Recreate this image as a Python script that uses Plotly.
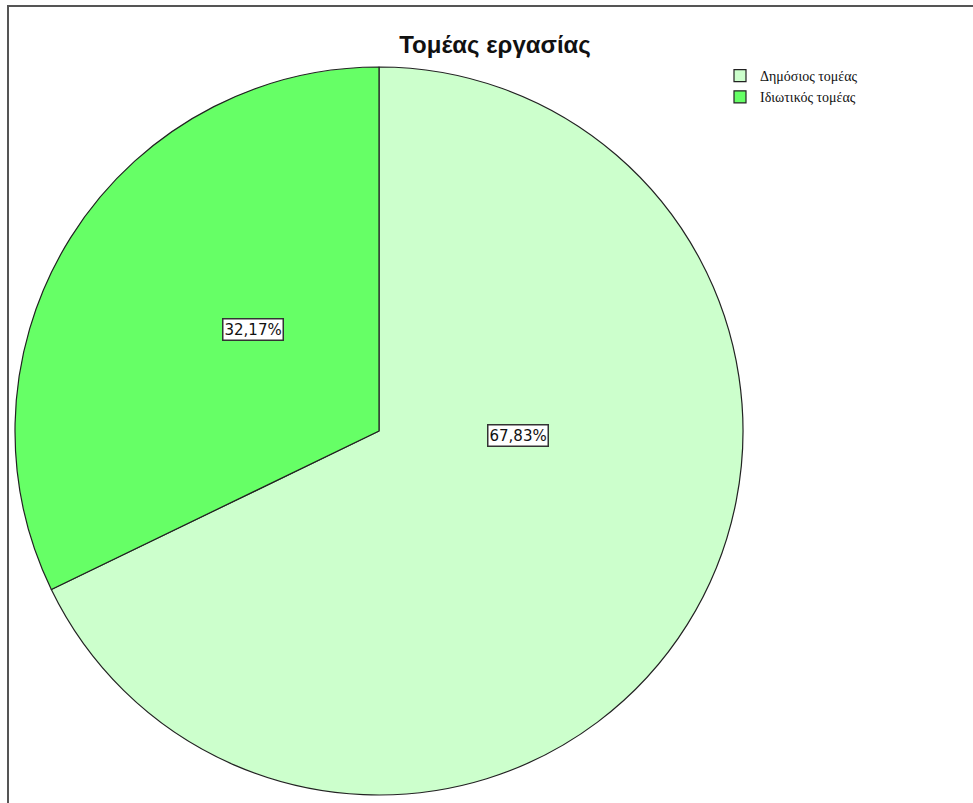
import plotly.graph_objects as go

# Employment sector shares (percent)
sectors = ["Δημόσιος τομέας", "Ιδιωτικός τομέας"]
shares = [67.83, 32.17]
slice_colors = ["#ccffcc", "#66ff66"]

# label anchor points for the value boxes (paper fraction)
label_x = [518 / 973, 222 / 973]
label_y = [1 - 436 / 803, 1 - 329 / 803]

W, H = 973, 803
cx, cy, r = 379, 431, 364

fig = go.Figure(
    go.Pie(
        labels=sectors,
        values=shares,
        sort=False,
        direction="clockwise",
        rotation=0,
        marker=dict(colors=slice_colors, line=dict(color="#222222", width=1.2)),
        textinfo="none",
        hoverinfo="label+percent",
        domain=dict(
            x=[(cx - r) / W, (cx + r) / W],
            y=[1 - (cy + r) / H, 1 - (cy - r) / H],
        ),
    )
)

for v, x, y in zip(shares, label_x, label_y):
    fig.add_annotation(
        x=x, y=y, xref="paper", yref="paper",
        text=f"{v:.2f}%".replace(".", ","),
        showarrow=False,
        font=dict(family="DejaVu Sans", size=15, color="#111111"),
        bgcolor="white",
        bordercolor="#333333",
        borderwidth=1.5,
        borderpad=1,
    )

# outer frame along the top and left edges
fig.add_shape(
    type="rect", xref="paper", yref="paper",
    x0=8 / W, x1=1.05, y0=-0.05, y1=1 - 6 / H,
    line=dict(color="#555555", width=2),
    fillcolor="rgba(0,0,0,0)",
)

fig.update_layout(
    width=W,
    height=H,
    margin=dict(l=0, r=0, t=0, b=0),
    paper_bgcolor="white",
    title=dict(
        text="Τομέας εργασίας",
        x=495 / W, xanchor="center",
        y=1 - 45 / H, yanchor="middle",
        font=dict(family="Liberation Sans", size=24, color="#111111", weight="bold"),
    ),
    legend=dict(
        x=720 / W, xanchor="left",
        y=1 - 60 / H, yanchor="top",
        font=dict(family="Liberation Serif", size=14, color="#111111"),
        bgcolor="rgba(0,0,0,0)",
        tracegroupgap=0,
        itemwidth=30,
    ),
)

fig.write_html("out.html")
